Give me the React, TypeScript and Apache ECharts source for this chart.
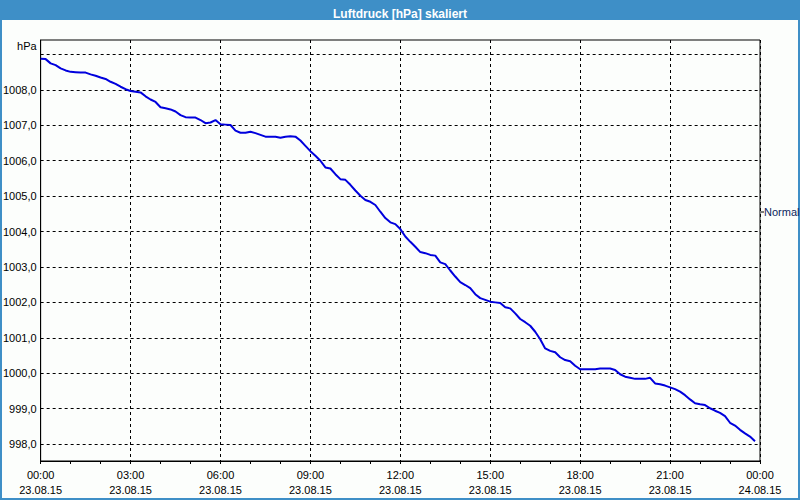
import React, { useEffect, useRef } from "react";
import * as echarts from "echarts";

// Luftdruck samples, every 10 minutes from 23.08.15 00:00 to 23:50
const pressure: number[] = [
  1008.88, 1008.87, 1008.75, 1008.70, 1008.61, 1008.55, 1008.51, 1008.50, 1008.49, 1008.49,
  1008.44, 1008.40, 1008.35, 1008.31, 1008.23, 1008.17, 1008.09, 1008.02, 1007.97, 1007.95,
  1007.93, 1007.82, 1007.73, 1007.66, 1007.51, 1007.48, 1007.45, 1007.39, 1007.29, 1007.23,
  1007.22, 1007.22, 1007.15, 1007.06, 1007.08, 1007.15, 1007.03, 1007.02, 1007.01, 1006.85,
  1006.79, 1006.79, 1006.82, 1006.78, 1006.73, 1006.68, 1006.68, 1006.68, 1006.65, 1006.68,
  1006.69, 1006.68, 1006.57, 1006.42, 1006.27, 1006.14, 1006.00, 1005.81, 1005.78, 1005.62,
  1005.48, 1005.46, 1005.32, 1005.16, 1005.01, 1004.89, 1004.84, 1004.75, 1004.56, 1004.38,
  1004.26, 1004.21, 1004.07, 1003.86, 1003.71, 1003.57, 1003.42, 1003.39, 1003.34, 1003.32,
  1003.13, 1003.08, 1002.90, 1002.73, 1002.57, 1002.49, 1002.40, 1002.23, 1002.12, 1002.07,
  1002.02, 1002.00, 1001.98, 1001.86, 1001.83, 1001.69, 1001.53, 1001.44, 1001.34, 1001.17,
  1000.96, 1000.70, 1000.63, 1000.59, 1000.45, 1000.37, 1000.34, 1000.21, 1000.11, 1000.11,
  1000.11, 1000.11, 1000.13, 1000.13, 1000.13, 1000.09, 999.97, 999.90, 999.87, 999.84,
  999.84, 999.84, 999.87, 999.71, 999.69, 999.65, 999.60, 999.55, 999.48, 999.38,
  999.26, 999.15, 999.12, 999.10, 999.01, 998.94, 998.88, 998.79, 998.60, 998.52,
  998.40, 998.30, 998.21, 998.08,
];

// sample time in hours since 23.08.15 00:00 (10-minute sampling)
const sampleHours: number[] = pressure.map((_, i) => i / 6);

const xTickLabels: string[] = [
  "00:00\n23.08.15",
  "03:00\n23.08.15",
  "06:00\n23.08.15",
  "09:00\n23.08.15",
  "12:00\n23.08.15",
  "15:00\n23.08.15",
  "18:00\n23.08.15",
  "21:00\n23.08.15",
  "00:00\n24.08.15",
];

const yGridValues: number[] = [998, 999, 1000, 1001, 1002, 1003, 1004, 1005, 1006, 1007, 1008, 1009];
const yLabelValues: number[] = [998, 999, 1000, 1001, 1002, 1003, 1004, 1005, 1006, 1007, 1008];

const TITLE = "Luftdruck [hPa] skaliert";
const SERIES_NAME = "Normal";
const FONT = "'Liberation Sans', Arial, sans-serif";

export default function App() {
  const ref = useRef<HTMLDivElement>(null);

  useEffect(() => {
    document.body.style.margin = "0";
    if (!ref.current) return;
    const chart = echarts.init(ref.current, undefined, { renderer: "svg" });
    const dash = { color: "#000", width: 1, type: [3, 3] as number[] };
    chart.setOption({
      animation: false,
      backgroundColor: "#fcfefc",
      textStyle: { fontFamily: FONT },
      title: {
        text: TITLE,
        left: "center",
        top: 3,
        textStyle: { color: "#ffffff", fontSize: 12, fontWeight: "bold", fontFamily: FONT },
      },
      grid: {
        left: 40,
        right: 40,
        top: 40,
        bottom: 39,
        show: true,
        borderColor: "#000",
        borderWidth: 1,
        containLabel: false,
      },
      xAxis: {
        type: "value",
        min: 0,
        max: 24,
        interval: 3,
        axisLine: { show: true, lineStyle: { color: "#000", width: 1 } },
        axisTick: { show: true, length: 3, lineStyle: { color: "#000" } },
        minorTick: { show: true, splitNumber: 3, length: 3, lineStyle: { color: "#000" } },
        axisLabel: {
          color: "#000",
          fontSize: 11,
          lineHeight: 15,
          margin: 6,
          fontFamily: FONT,
          formatter: (v: number) => xTickLabels[Math.round(v / 3)] ?? "",
        },
        splitLine: { show: true, lineStyle: dash },
      },
      yAxis: {
        type: "value",
        min: 997.52,
        max: 1009.41,
        name: "hPa",
        nameLocation: "end",
        nameGap: -6,
        nameTextStyle: {
          color: "#000",
          fontSize: 11,
          align: "right",
          verticalAlign: "middle",
          padding: [0, 4, 0, 0],
          fontFamily: FONT,
        },
        axisLine: { show: true, lineStyle: { color: "#000", width: 1 } },
        axisTick: { show: false, customValues: yGridValues },
        axisLabel: {
          customValues: yLabelValues,
          color: "#000",
          fontSize: 11,
          margin: 4,
          fontFamily: FONT,
          formatter: (v: number) => v.toFixed(1).replace(".", ","),
        },
        splitLine: { show: true, lineStyle: dash },
      },
      series: [
        {
          name: SERIES_NAME,
          type: "line",
          data: sampleHours.map((h, i) => [h, pressure[i]]),
          showSymbol: false,
          symbol: "none",
          lineStyle: { color: "#0000dd", width: 2 },
          itemStyle: { color: "#0000dd" },
        },
      ],
      graphic: [
        { type: "rect", z: 0, shape: { x: 0, y: 0, width: 800, height: 20 }, style: { fill: "#3e8fc7" } },
        { type: "rect", z: 0, shape: { x: 0, y: 0, width: 2, height: 500 }, style: { fill: "#3e8fc7" } },
        { type: "rect", z: 0, shape: { x: 798, y: 0, width: 2, height: 500 }, style: { fill: "#3e8fc7" } },
        { type: "rect", z: 0, shape: { x: 0, y: 498, width: 800, height: 2 }, style: { fill: "#3e8fc7" } },
        {
          type: "line",
          shape: { x1: 761, y1: 212, x2: 764, y2: 212 },
          style: { stroke: "#000", lineWidth: 1 },
        },
        {
          type: "text",
          x: 764,
          y: 212,
          style: {
            text: SERIES_NAME,
            fill: "#0b1e5c",
            font: `11px ${FONT}`,
            textAlign: "left",
            textVerticalAlign: "middle",
          },
        },
      ],
    });
    return () => chart.dispose();
  }, []);

  return <div ref={ref} style={{ width: 800, height: 500 }} />;
}
